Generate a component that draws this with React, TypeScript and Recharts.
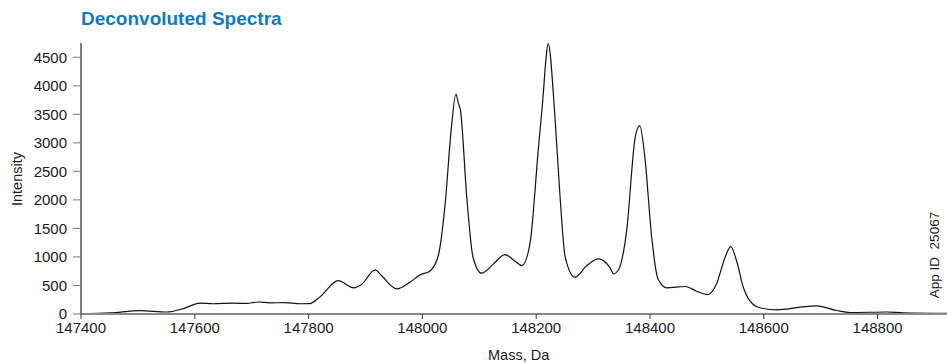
import { LineChart, Line, XAxis, YAxis } from "recharts";

const masses = [
  147400, 147451, 147504, 147551, 147580, 147609, 147632, 147668, 147691, 147712,
  147732, 147758, 147785, 147802, 147820, 147852, 147879, 147893, 147917, 147928,
  147955, 147978, 147996, 148013, 148028, 148040, 148051, 148059, 148063, 148067,
  148078, 148089, 148104, 148125, 148145, 148163, 148175, 148189, 148204, 148212,
  148217, 148221, 148233, 148242, 148251, 148268, 148289, 148309, 148330, 148336,
  148344, 148359, 148374, 148382, 148391, 148403, 148414, 148429, 148462, 148482,
  148502, 148517, 148532, 148542, 148552, 148564, 148576, 148593, 148623, 148664,
  148693, 148728, 148752, 148816, 148845, 148922,
];

const intensities = [
  5, 20, 60, 35, 95, 190, 180, 190, 185, 210,
  195, 200, 180, 182, 300, 585, 459, 517, 774, 674,
  441, 557, 686, 750, 1025, 1930, 3272, 3856, 3700, 3564,
  2046, 995, 715, 879, 1042, 925, 849, 1229, 2921, 3800,
  4450, 4740, 3450, 2046, 995, 645, 849, 966, 809, 704,
  762, 1462, 3096, 3301, 2746, 1345, 616, 459, 482, 399,
  341, 529, 995, 1182, 937, 469, 224, 109, 74, 119,
  144, 61, 26, 35, 20, 10,
];

const xTicks = [147400, 147600, 147800, 148000, 148200, 148400, 148600, 148800];
const yTicks = [0, 500, 1000, 1500, 2000, 2500, 3000, 3500, 4000, 4500];

const data = masses.map((mass, i) => ({ mass, intensity: intensities[i] }));

const FONT = "'Liberation Sans', Arial, Helvetica, sans-serif";

export default function App() {
  return (
    <div
      style={{
        position: "absolute",
        left: 0,
        top: 0,
        width: 947,
        height: 363,
        background: "#fff",
        fontFamily: FONT,
        overflow: "hidden",
      }}
    >
      <LineChart
        width={947}
        height={363}
        data={data}
        margin={{ top: 43, right: 0, bottom: 19, left: 0 }}
      >
        <XAxis
          dataKey="mass"
          type="number"
          domain={[147400, 148922]}
          ticks={xTicks}
          allowDataOverflow
          height={30}
          tickSize={5}
          tickMargin={3}
          axisLine={{ stroke: "#8a8a8a", strokeWidth: 2 }}
          tickLine={{ stroke: "#333" }}
          tick={{ fill: "#1a1a1a", fontSize: 15, fontFamily: FONT }}
        />
        <YAxis
          type="number"
          domain={[0, 4750]}
          ticks={yTicks}
          allowDataOverflow
          width={81}
          tickSize={8}
          tickMargin={6}
          axisLine={{ stroke: "#000" }}
          tickLine={{ stroke: "#777" }}
          tick={{ fill: "#1a1a1a", fontSize: 15, fontFamily: FONT }}
        />
        <Line
          type="monotone"
          dataKey="intensity"
          stroke="#111"
          strokeWidth={1.2}
          dot={false}
          activeDot={false}
          isAnimationActive={false}
        />
      </LineChart>
      <svg
        width={947}
        height={363}
        style={{ position: "absolute", left: 0, top: 0, pointerEvents: "none" }}
      >
        <text x={81} y={25} fontSize={19} fontWeight="bold" fill="#0b7bc4" fontFamily={FONT}>
          Deconvoluted Spectra
        </text>
        <text x={488} y={360} fontSize={14.5} fill="#1a1a1a" fontFamily={FONT}>
          Mass, Da
        </text>
        <text
          transform="translate(22,179) rotate(-90)"
          textAnchor="middle"
          fontSize={14.5}
          fill="#1a1a1a"
          fontFamily={FONT}
        >
          Intensity
        </text>
        <text
          transform="translate(939,255) rotate(-90)"
          textAnchor="middle"
          fontSize={13.5}
          fill="#1a1a1a"
          fontFamily={FONT}
          style={{ whiteSpace: "pre" }}
        >
          {"App ID  25067"}
        </text>
      </svg>
    </div>
  );
}
